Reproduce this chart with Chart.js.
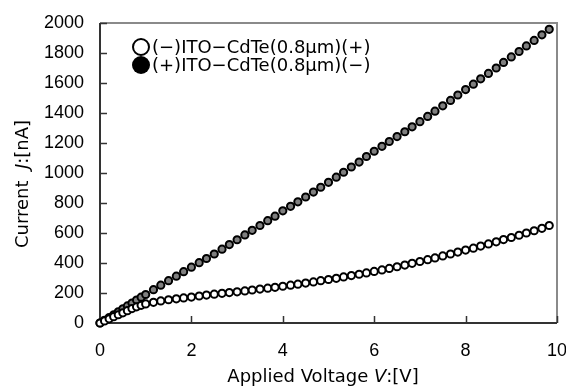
<!DOCTYPE html>
<html>
<head>
<meta charset="utf-8">
<script src="https://cdn.jsdelivr.net/npm/chart.js@4"></script>
<style>
  html, body { margin: 0; padding: 0; background: #fff; }
  #wrap { width: 566px; height: 389px; }
</style>
</head>
<body>
<div id="wrap"><canvas id="ivChart" width="566" height="389"></canvas></div>
<script>
// applied voltage [V]
const voltage = [
  0, 0.1, 0.2, 0.3, 0.4, 0.5, 0.6, 0.7, 0.8, 0.9, 1.0,
  1.17, 1.33, 1.5, 1.67, 1.83, 2.0,
  2.17, 2.33, 2.5, 2.67, 2.83, 3.0,
  3.17, 3.33, 3.5, 3.67, 3.83, 4.0,
  4.17, 4.33, 4.5, 4.67, 4.83, 5.0,
  5.17, 5.33, 5.5, 5.67, 5.83, 6.0,
  6.17, 6.33, 6.5, 6.67, 6.83, 7.0,
  7.17, 7.33, 7.5, 7.67, 7.83, 8.0,
  8.17, 8.33, 8.5, 8.67, 8.83, 9.0,
  9.17, 9.33, 9.5, 9.67, 9.83
];
// (−)ITO−CdTe(+) : open circles [nA]
const currentMinus = [
  0, 14, 28, 42, 55, 68, 82, 96, 108, 118, 127,
  138, 147, 155, 161, 167, 173,
  180, 186, 192, 198, 203, 208,
  214, 220, 226, 232, 238, 245,
  252, 259, 266, 274, 282, 290,
  298, 307, 316, 325, 334, 344,
  354, 364, 375, 386, 398, 410,
  422, 434, 447, 460, 473, 486,
  499, 513, 527, 541, 556, 570,
  585, 600, 615, 631, 650
];
// (+)ITO−CdTe(−) : filled circles [nA]
const currentPlus = [
  0, 18, 36, 55, 75, 95, 114, 133, 153, 172, 190,
  222, 252, 282, 312, 342, 372,
  402, 430, 460, 492, 523, 555,
  587, 618, 650, 682, 712, 748,
  778, 808, 840, 873, 905, 938,
  972, 1005, 1040, 1073, 1110, 1145,
  1178, 1210, 1243, 1275, 1308, 1342,
  1377, 1412, 1448, 1484, 1520, 1556,
  1592, 1628, 1664, 1700, 1737, 1774,
  1810, 1847, 1884, 1921, 1958
];
const seriesLabels = ['(−)ITO−CdTe(0.8μm)(+)', '(+)ITO−CdTe(0.8μm)(−)'];
const xTicks = [0, 2, 4, 6, 8, 10];
const yTicks = [0, 200, 400, 600, 800, 1000, 1200, 1400, 1600, 1800, 2000];
const xTitle = [['Applied Voltage ', false], ['V', true], [':[V]', false]];
const yTitle = [['Current  ', false], ['J', true], [':[nA]', false]];

const tickFont = { family: '"Liberation Sans", Arial, sans-serif', size: 18 };
const textFont = '"DejaVu Sans", sans-serif';

function drawMixed(ctx, parts, cx, cy) {
  let total = 0;
  parts.forEach(p => {
    ctx.font = (p[1] ? 'italic ' : '') + '18px ' + textFont;
    total += ctx.measureText(p[0]).width;
  });
  let x = cx - total / 2;
  ctx.textAlign = 'left';
  ctx.textBaseline = 'middle';
  parts.forEach(p => {
    ctx.font = (p[1] ? 'italic ' : '') + '18px ' + textFont;
    ctx.fillText(p[0], x, cy);
    x += ctx.measureText(p[0]).width;
  });
}

// frame: dark left/bottom axes, grey top/right, short inward ticks
const framePlugin = {
  id: 'frame',
  beforeDatasetsDraw(chart) {
    const { ctx, chartArea: a, scales: { x, y } } = chart;
    ctx.save();
    ctx.lineWidth = 2;
    ctx.strokeStyle = '#8a8a8a';
    ctx.beginPath();
    ctx.moveTo(a.left, a.top);
    ctx.lineTo(a.right, a.top);
    ctx.lineTo(a.right, a.bottom);
    ctx.stroke();
    ctx.strokeStyle = '#333';
    ctx.beginPath();
    ctx.moveTo(a.left, a.top);
    ctx.lineTo(a.left, a.bottom);
    ctx.lineTo(a.right, a.bottom);
    ctx.stroke();
    ctx.lineWidth = 1.5;
    ctx.beginPath();
    xTicks.forEach(v => {
      const px = Math.round(x.getPixelForValue(v)) + 0.5;
      ctx.moveTo(px, a.bottom);
      ctx.lineTo(px, a.bottom - 7);
    });
    yTicks.forEach(v => {
      const py = Math.round(y.getPixelForValue(v)) + 0.5;
      ctx.moveTo(a.left, py);
      ctx.lineTo(a.left + 7, py);
    });
    ctx.stroke();
    ctx.restore();
  },
  afterDraw(chart) {
    const { ctx } = chart;
    ctx.save();
    ctx.fillStyle = '#000';
    drawMixed(ctx, xTitle, 323, 377);
    ctx.translate(23, 184);
    ctx.rotate(-Math.PI / 2);
    drawMixed(ctx, yTitle, 0, 0);
    ctx.restore();
  }
};

// legend inside the plot, big circle markers
const legendPlugin = {
  id: 'innerLegend',
  afterDatasetsDraw(chart) {
    const { ctx } = chart;
    const rows = [47, 65];
    ctx.save();
    rows.forEach((ry, i) => {
      ctx.beginPath();
      if (i === 0) {
        ctx.arc(141, ry, 8, 0, Math.PI * 2);
        ctx.fillStyle = '#fff';
        ctx.fill();
        ctx.lineWidth = 2;
        ctx.strokeStyle = '#000';
        ctx.stroke();
      } else {
        ctx.arc(141, ry, 9, 0, Math.PI * 2);
        ctx.fillStyle = '#000';
        ctx.fill();
      }
      ctx.fillStyle = '#000';
      ctx.font = '18px ' + textFont;
      ctx.textAlign = 'left';
      ctx.textBaseline = 'middle';
      ctx.fillText(seriesLabels[i], 152, ry + 1);
    });
    ctx.restore();
  }
};

const ctx = document.getElementById('ivChart').getContext('2d');
const ivChart = new Chart(ctx, {
  type: 'scatter',
  data: {
    datasets: [
      {
        label: seriesLabels[0],
        data: voltage.map((v, i) => ({ x: v, y: currentMinus[i] })),
        pointRadius: 3.6,
        pointBorderWidth: 2,
        pointBackgroundColor: '#fff',
        pointBorderColor: '#000',
        showLine: false,
        clip: false
      },
      {
        label: seriesLabels[1],
        data: voltage.map((v, i) => ({ x: v, y: currentPlus[i] })),
        pointRadius: 3.6,
        pointBorderWidth: 2,
        pointBackgroundColor: '#7f7f7f',
        pointBorderColor: '#000',
        showLine: false,
        clip: false
      }
    ]
  },
  options: {
    responsive: false,
    animation: false,
    events: [],
    layout: { padding: { left: 0, top: 23, right: 9, bottom: 0 } },
    scales: {
      x: {
        type: 'linear',
        min: 0,
        max: 10,
        afterBuildTicks: s => { s.ticks = xTicks.map(v => ({ value: v })); },
        afterFit: s => { s.height = 66; s.paddingLeft = 0; s.paddingRight = 0; },
        grid: { display: false, drawTicks: false },
        border: { display: false },
        ticks: { font: tickFont, color: '#000', padding: 17, maxRotation: 0, autoSkip: false,
                 callback: v => String(v) }
      },
      y: {
        type: 'linear',
        min: 0,
        max: 2000,
        afterBuildTicks: s => { s.ticks = yTicks.map(v => ({ value: v })); },
        afterFit: s => { s.width = 100; s.paddingTop = 0; s.paddingBottom = 0; },
        grid: { display: false, drawTicks: false },
        border: { display: false },
        ticks: { font: tickFont, color: '#000', padding: 16, autoSkip: false,
                 callback: v => String(v) }
      }
    },
    plugins: {
      legend: { display: false },
      tooltip: { enabled: false }
    }
  },
  plugins: [framePlugin, legendPlugin]
});
</script>
</body>
</html>
